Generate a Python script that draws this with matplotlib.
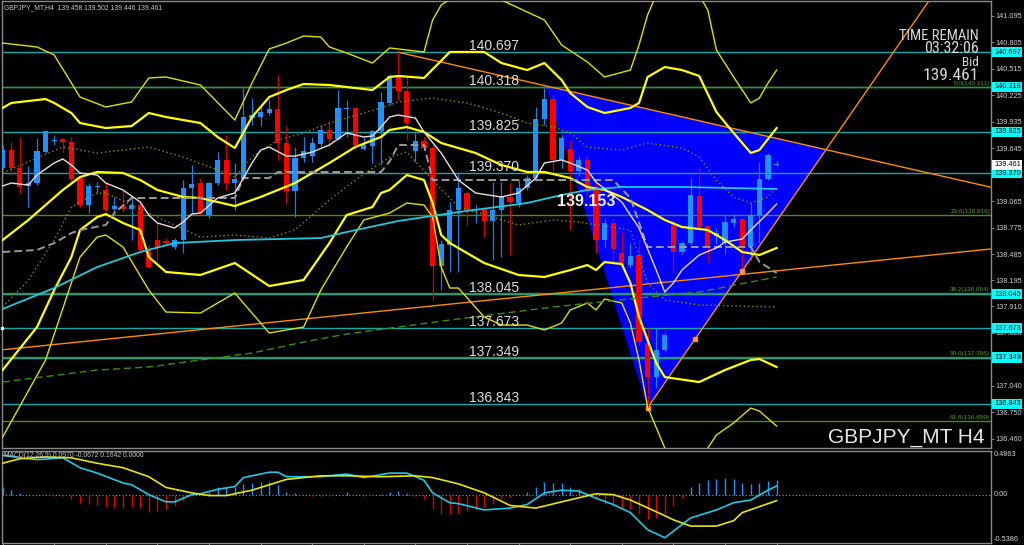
import numpy as np
import matplotlib
matplotlib.use("Agg")
import matplotlib.pyplot as plt
from matplotlib.patches import Polygon
from matplotlib.transforms import blended_transform_factory

plt.rcParams['font.family'] = ['Liberation Sans', 'DejaVu Sans']

# ------------------------------------------------------------------ data
symbol = "GBPJPY_MT"
timeframe = "H4"

opens = [139.428, 139.625, 139.428, 139.231, 139.263, 139.603, 139.724, 139.746, 139.713, 139.318,
         139.022, 139.220, 139.187, 138.978, 139.011, 138.978, 139.022, 138.540, 138.638, 138.627,
         138.562, 138.638, 139.209, 139.263, 138.912, 139.263, 139.516, 139.263, 139.307, 139.976,
         139.987, 140.031, 140.075, 139.702, 139.176, 139.537, 139.559, 139.691, 139.845, 139.746,
         140.075, 140.086, 139.636, 139.669, 139.834, 140.141, 140.437, 140.272, 139.614, 139.724,
         139.647, 138.353, 138.584, 138.967, 139.154, 138.967, 138.978, 138.847, 138.967, 139.110,
         139.044, 139.209, 139.318, 139.965, 140.184, 139.516, 139.636, 139.395, 139.516, 139.187,
         138.638, 138.825, 138.496, 138.364, 138.474, 137.509, 137.138, 137.432, 138.803, 138.507,
         138.605, 139.121, 138.792, 138.682, 138.605, 138.825, 138.869, 138.562, 138.912, 139.307,
         139.458]
highs = [139.680, 139.713, 139.768, 139.450, 139.757, 139.845, 139.790, 139.757, 139.768, 139.340,
         139.263, 139.274, 139.263, 139.110, 139.187, 139.099, 139.044, 138.584, 138.825, 138.660,
         138.660, 139.296, 139.461, 139.318, 139.274, 139.603, 139.790, 139.483, 140.305, 140.195,
         140.097, 140.174, 140.448, 139.888, 139.658, 139.768, 139.768, 139.899, 139.943, 140.283,
         140.174, 140.097, 139.768, 139.845, 140.261, 140.459, 140.697, 140.426, 139.834, 139.768,
         139.680, 138.638, 139.055, 139.373, 139.176, 139.022, 139.000, 139.274, 139.274, 139.274,
         139.296, 139.351, 140.097, 140.305, 140.228, 139.790, 139.735, 139.560, 139.570, 139.296,
         138.879, 138.879, 138.726, 138.605, 138.638, 137.673, 137.673, 137.630, 138.858, 138.630,
         139.318, 139.439, 138.800, 138.770, 138.900, 138.920, 138.869, 139.044, 139.494, 139.592,
         139.502]
lows = [139.406, 139.351, 139.154, 139.000, 139.241, 139.592, 139.680, 139.603, 139.241, 139.000,
        138.934, 139.154, 138.945, 138.934, 138.945, 138.638, 138.507, 138.331, 138.419, 138.573,
        138.540, 138.496, 138.934, 138.912, 138.879, 139.241, 139.187, 138.967, 139.296, 139.899,
        139.888, 140.009, 139.516, 139.033, 138.890, 139.494, 139.494, 139.658, 139.658, 139.735,
        139.768, 139.625, 139.625, 139.483, 139.461, 140.118, 140.174, 139.735, 139.494, 139.625,
        137.981, 138.090, 138.288, 138.288, 138.803, 138.825, 138.671, 138.419, 138.452, 138.474,
        139.000, 139.187, 139.285, 139.899, 139.384, 139.428, 138.748, 139.340, 139.132, 138.496,
        138.551, 138.397, 138.342, 138.342, 137.487, 136.800, 137.016, 137.410, 138.277, 138.490,
        138.584, 138.748, 138.397, 138.600, 138.480, 138.780, 138.331, 138.419, 138.605, 139.296,
        139.446]
closes = [139.625, 139.428, 139.220, 139.263, 139.614, 139.834, 139.735, 139.713, 139.307, 139.022,
          139.231, 139.231, 138.967, 139.011, 138.978, 139.022, 138.529, 138.342, 138.562, 138.605,
          138.638, 139.209, 139.252, 138.934, 139.263, 139.516, 139.263, 139.307, 139.987, 140.009,
          140.042, 140.075, 139.702, 139.176, 139.537, 139.614, 139.702, 139.845, 139.746, 140.086,
          140.086, 139.680, 139.680, 139.834, 140.152, 140.437, 140.272, 139.921, 139.724, 139.647,
          138.353, 138.595, 138.967, 139.209, 138.967, 138.978, 138.847, 138.967, 139.110, 139.055,
          139.209, 139.318, 139.965, 140.184, 139.516, 139.757, 139.395, 139.516, 139.187, 138.638,
          138.825, 138.540, 138.364, 138.463, 137.520, 137.138, 137.432, 137.597, 138.507, 138.605,
          139.132, 138.781, 138.551, 138.715, 138.836, 138.869, 138.562, 138.912, 139.307, 139.570,
          139.461]

# Bollinger style bands (bar index, price)
band_up_outer_idx = [0, 4, 6, 9, 12, 15, 17, 19, 23, 27, 29, 31, 33, 35, 37, 38, 40, 43, 45, 49, 50, 51,
                     54, 57, 58, 63, 65, 68, 70, 73, 74, 75, 76, 78, 80, 81, 82, 83, 85, 87, 88, 89, 90]
band_up_outer = [140.798, 140.755, 140.667, 140.206, 140.097, 140.152, 140.415, 140.426, 140.338, 139.954,
                 140.360, 140.733, 140.798, 140.875, 140.864, 140.755, 140.689, 140.579, 140.744, 140.700,
                 141.051, 141.215, 141.400, 141.400, 141.270, 141.051, 140.777, 140.590, 140.426, 140.502,
                 140.777, 141.106, 141.325, 141.700, 141.600, 141.325, 141.160, 140.722, 140.426, 140.141,
                 140.195, 140.360, 140.502]
band_up_idx = [0, 1, 5, 6, 8, 9, 12, 15, 17, 19, 23, 25, 27, 29, 31, 33, 35, 38, 40, 43, 45, 46, 49,
               52, 56, 58, 61, 63, 65, 66, 68, 70, 73, 74, 75, 77, 79, 81, 83, 85, 87, 88, 90]
band_up = [140.086, 140.141, 140.184, 140.141, 140.031, 139.921, 139.866, 139.888, 140.031, 139.987,
           139.921, 139.768, 139.647, 139.987, 140.206, 140.283, 140.349, 140.338, 140.316, 140.283,
           140.426, 140.437, 140.415, 140.700, 140.700, 140.579, 140.502, 140.579, 140.393, 140.250,
           140.097, 140.031, 140.086, 140.141, 140.426, 140.535, 140.502, 140.437, 140.042, 139.812,
           139.593, 139.625, 139.866]
band_mid_idx = [0, 4, 7, 11, 17, 21, 25, 27, 29, 32, 35, 38, 40, 44, 46, 50, 54, 58, 61, 64, 66, 68,
                72, 75, 79, 81, 83, 85, 87, 89, 90]
band_mid = [139.373, 139.537, 139.658, 139.592, 139.658, 139.548, 139.406, 139.329, 139.548, 139.735,
            139.812, 139.921, 139.976, 140.086, 140.152, 140.195, 140.141, 140.031, 139.921, 139.877,
            139.812, 139.658, 139.625, 139.702, 139.647, 139.548, 139.296, 139.110, 139.044, 139.110,
            139.220]
band_lo_idx = [0, 3, 7, 9, 11, 14, 16, 18, 21, 23, 27, 30, 34, 38, 41, 44, 45, 47, 49, 51, 55, 58, 61,
               63, 66, 68, 70, 72, 75, 77, 79, 82, 84, 86, 88, 90]
band_lo = [138.638, 138.858, 139.187, 139.329, 139.384, 139.373, 139.296, 139.187, 139.110, 139.099,
           139.011, 139.110, 139.263, 139.483, 139.658, 139.768, 139.845, 139.877, 139.823, 139.702,
           139.592, 139.461, 139.384, 139.384, 139.318, 139.220, 139.187, 139.110, 138.967, 138.858,
           138.781, 138.748, 138.638, 138.507, 138.474, 138.551]
band_lo2_idx = [0, 4, 6, 8, 9, 11, 12, 14, 16, 17, 19, 23, 27, 31, 35, 38, 40, 43, 44, 45, 47, 49, 50,
                51, 52, 56, 60, 63, 66, 68, 69, 70, 72, 73, 74, 76, 77, 81, 84, 87, 88, 90]
band_lo2 = [137.213, 137.684, 138.090, 138.452, 138.748, 138.890, 138.923, 138.825, 138.748, 138.452,
            138.288, 138.255, 138.386, 138.134, 138.200, 138.605, 138.912, 139.000, 139.154, 139.187,
            139.351, 139.296, 139.044, 138.693, 138.605, 138.386, 138.255, 138.233, 138.309, 138.364,
            138.309, 138.397, 138.375, 138.167, 137.794, 137.290, 137.136, 137.081, 137.213, 137.323,
            137.334, 137.246]
band_lo3_idx = [0, 5, 9, 11, 12, 14, 17, 19, 23, 27, 31, 35, 37, 40, 42, 45, 47, 49, 50, 51, 52, 53,
                56, 58, 61, 63, 65, 66, 68, 69, 70, 72, 73, 74, 75, 77, 79, 80, 82, 83, 85, 87, 88, 90]
band_lo3 = [136.478, 137.323, 138.452, 138.671, 138.693, 138.562, 138.090, 137.849, 137.838, 138.057,
            137.619, 137.684, 138.090, 138.562, 138.858, 138.934, 139.044, 139.022, 138.890, 138.342,
            138.112, 138.112, 137.794, 137.706, 137.706, 137.652, 137.728, 137.871, 137.948, 137.871,
            137.991, 137.948, 137.728, 137.323, 136.807, 136.358, 135.950, 135.950, 136.358, 136.500,
            136.632, 136.796, 136.763, 136.599]
span_dot_idx = [0, 3, 6, 8, 11, 12, 17, 23, 27, 31, 34, 38, 41, 45, 47, 50, 53, 57, 60, 64, 67, 73,
                75, 77, 81, 90]
span_dot = [137.904, 138.200, 138.638, 139.000, 139.154, 139.154, 138.934, 138.671, 138.693, 138.660,
            138.748, 139.077, 139.296, 139.548, 139.603, 139.296, 139.000, 138.890, 138.803, 138.858,
            138.836, 138.748, 138.167, 137.981, 137.926, 137.904]
ma_fast_idx = [0, 1, 3, 4, 6, 7, 8, 9, 11, 12, 14, 16, 17, 18, 20, 21, 22, 23, 25, 27, 29, 30, 31, 33,
               34, 36, 38, 40, 42, 43, 44, 45, 46, 48, 49, 51, 53, 55, 58, 60, 62, 63, 65, 66, 68, 69,
               72, 74, 76, 77, 78, 79, 81, 83, 84, 86, 87, 89, 90]
ma_fast = [139.231, 139.263, 139.241, 139.351, 139.483, 139.527, 139.461, 139.373, 139.351, 139.263,
           139.187, 139.055, 138.912, 138.825, 138.770, 138.836, 138.923, 138.934, 139.099, 139.154,
           139.483, 139.625, 139.658, 139.559, 139.559, 139.603, 139.680, 139.812, 139.768, 139.779,
           139.877, 139.987, 140.009, 139.976, 139.823, 139.592, 139.296, 139.154, 139.110, 139.154,
           139.318, 139.483, 139.516, 139.483, 139.406, 139.274, 139.055, 138.770, 138.310, 138.068,
           138.167, 138.310, 138.474, 138.551, 138.616, 138.649, 138.748, 138.934, 139.033]
ma_mid_idx = [0, 6, 11, 16, 20, 27, 32, 37, 40, 46, 53, 61, 65, 68, 72, 79, 90]
ma_mid = [137.882, 138.112, 138.342, 138.507, 138.605, 138.638, 138.649, 138.660, 138.726, 138.847,
          138.945, 139.044, 139.132, 139.187, 139.220, 139.220, 139.198]
ma_slow_idx = [0, 11, 17, 23, 29, 35, 40, 52, 64, 75, 81, 90]
ma_slow = [137.081, 137.213, 137.246, 137.323, 137.399, 137.520, 137.608, 137.761, 137.904, 138.013,
           138.068, 138.233]
base_idx = [0, 4, 6, 8, 9, 12, 13, 15, 27, 28, 31, 32, 44, 45, 46, 49, 50, 71, 73, 75, 87, 88, 90]
base_line = [138.507, 138.529, 138.605, 138.715, 138.748, 138.803, 138.934, 139.099, 139.099, 139.318,
             139.318, 139.384, 139.384, 139.500, 139.680, 139.680, 139.296, 139.296, 139.099, 138.562,
             138.562, 138.400, 138.277]

# MACD panel
macd_hist = [0.09, 0.05, 0.02, -0.02, -0.02, -0.005, -0.01, -0.02, -0.05, -0.09,
             -0.10, -0.115, -0.14, -0.15, -0.15, -0.14, -0.15, -0.19, -0.18, -0.16,
             -0.13, -0.07, -0.02, -0.005, 0.035, 0.08, 0.08, 0.08, 0.115, 0.135,
             0.145, 0.145, 0.11, 0.035, 0.013, 0.0, -0.018, -0.013, -0.013, -0.005,
             0.027, -0.005, -0.013, -0.009, 0.005, 0.03, 0.045, 0.013, -0.018, -0.05,
             -0.16, -0.22, -0.22, -0.20, -0.18, -0.16, -0.14, -0.10, -0.05, -0.03,
             0.0, 0.027, 0.09, 0.14, 0.135, 0.125, 0.09, 0.06, 0.01, -0.05,
             -0.10, -0.125, -0.16, -0.16, -0.21, -0.27, -0.26, -0.22, -0.125, -0.035,
             0.08, 0.13, 0.16, 0.17, 0.18, 0.17, 0.13, 0.12, 0.13, 0.155, 0.1642]
macd_idx = [0, 2, 4, 7, 9, 11, 14, 15, 17, 19, 20, 22, 23, 25, 27, 28, 31, 32, 33, 37, 40, 42, 45,
            47, 49, 50, 52, 53, 56, 59, 61, 63, 65, 67, 69, 71, 73, 75, 77, 80, 83, 85, 87, 89, 90]
macd_main = [0.44, 0.41, 0.39, 0.41, 0.30, 0.24, 0.13, 0.11, 0.0, -0.08, -0.08, 0.0, 0.01, 0.06, 0.09,
             0.19, 0.25, 0.25, 0.20, 0.20, 0.23, 0.19, 0.24, 0.24, 0.16, 0.02, -0.09, -0.10, -0.17,
             -0.15, -0.11, 0.02, 0.05, 0.04, -0.04, -0.11, -0.20, -0.39, -0.48, -0.26, -0.17, -0.09,
             -0.06, 0.05, 0.097]
signal_idx = [0, 2, 5, 8, 11, 14, 17, 19, 22, 24, 26, 29, 33, 37, 40, 44, 48, 50, 53, 56, 59, 62, 65,
              69, 71, 73, 76, 78, 80, 83, 85, 86, 90]
macd_signal = [0.35, 0.40, 0.42, 0.41, 0.35, 0.30, 0.20, 0.08, 0.02, -0.01, -0.01, 0.05, 0.17, 0.21,
               0.21, 0.20, 0.21, 0.19, 0.12, 0.02, -0.12, -0.15, -0.08, 0.01, 0.0, -0.06, -0.19, -0.28,
               -0.35, -0.35, -0.29, -0.20, -0.067]
macd_params = "MACD(12,26,9) 0.0970 -0.0672 0.1642 0.0000"
macd_top, macd_bottom = 0.4863, -0.5386

# horizontal levels, fibonacci, drawing objects
level_prices = [140.697, 140.318, 139.825, 139.370, 138.045, 137.673, 137.349, 136.843]
fib_pct = ["0.0", "23.6", "38.2", "50.0", "61.8"]
fib_prices = [140.311, 138.916, 138.054, 137.356, 136.659]
triangle_bars = [63.1, 75.0, 95.9]
triangle_prices = [140.330, 136.800, 139.630]
triangle_label = "139.153"
rise_line = [(0, 137.435), (81, 138.214)]
fall_line = [(46, 140.697), (63, 140.332)]
steep_line = [(75, 136.800), (86, 138.300)]
steep_marks = [75, 80.5, 86]
# visible right-axis scale labels (those hidden under level boxes omitted)
price_ticks = [141.095, 140.805, 140.515, 140.225, 139.935, 139.645, 139.065, 138.775,
               138.485, 138.195, 137.910, 137.620, 137.040, 136.750, 136.460]
bid = 139.461
ohlc_header = [139.458, 139.502, 139.446, 139.461]
time_remain = "03:32:06"

# ------------------------------------------------------------------ layout
W, H = 1024, 545
BG = 'black'
fig = plt.figure(figsize=(W / 100, H / 100), dpi=100, facecolor=BG)


def fbox(x0, y0, x1, y1):
    return [x0 / W, 1 - y1 / H, (x1 - x0) / W, (y1 - y0) / H]


ax = fig.add_axes(fbox(2, 1, 991, 448))
ax2 = fig.add_axes(fbox(2, 451, 991, 543))
bar_px, first_px = 8.6, 2.6
x_left = (2 - first_px) / bar_px
x_right = (991 - first_px) / bar_px
for a in (ax, ax2):
    a.set_facecolor(BG)
    a.set_xlim(x_left, x_right)
    for s in a.spines.values():
        s.set_color('#8a8a8a')
        s.set_linewidth(1.0)
ax.set_ylim(136.358, 141.259)
ax2.set_ylim(macd_bottom, macd_top)

n = len(opens)
idx = np.arange(n)
o, h, l, c = (np.array(v) for v in (opens, highs, lows, closes))

# triangle object (background)
ax.add_patch(Polygon(list(zip(triangle_bars, triangle_prices)), closed=True,
                     fc='#0000ff', ec='none', zorder=1))

# horizontal levels
for p in level_prices:
    ax.axhline(p, color='#18a8a8', lw=1.0, zorder=2)
for p in fib_prices:
    ax.axhline(p, color='#4e8c0c', lw=1.0, zorder=2)


# trend lines
def ray(anchors, start, end):
    (b0, p0), (b1, p1) = anchors
    s = (p1 - p0) / (b1 - b0)
    xs = np.array([start, end])
    return xs, p0 + s * (xs - b0)


for anchors, st in ((rise_line, x_left), (fall_line, fall_line[0][0]), (steep_line, steep_line[0][0])):
    xs, ys = ray(anchors, st, x_right)
    ax.plot(xs, ys, color='#ff8c00', lw=1.0, zorder=2.5)
sb = np.array(steep_marks)
s_slope = (steep_line[1][1] - steep_line[0][1]) / (steep_line[1][0] - steep_line[0][0])
ax.plot(sb, steep_line[0][1] + s_slope * (sb - steep_line[0][0]), 's', color='#ff9a20', ms=2.2, zorder=2.6)

# candles
up = c >= o
cols = np.where(up, '#1E90FF', '#FF0000')
wick_cols = np.where(up, '#1e7fe0', '#d00000')
ax.vlines(idx, l, h, colors=wick_cols, lw=0.9, zorder=3)
body_lo = np.minimum(o, c)
body_h = np.maximum(np.abs(c - o), 0.011)
ax.bar(idx, body_h, bottom=body_lo, width=0.6, color=cols, linewidth=0, zorder=3.1)

# indicators
ax.plot(band_up_outer_idx, band_up_outer, color='#e0e000', lw=1.0, zorder=4)
ax.plot(band_lo3_idx, band_lo3, color='#e0e000', lw=1.0, zorder=4)
ax.plot(band_up_idx, band_up, color='#ffff00', lw=1.6, zorder=4)
ax.plot(band_lo_idx, band_lo, color='#ffff00', lw=1.6, zorder=4)
ax.plot(band_lo2_idx, band_lo2, color='#ffff00', lw=1.6, zorder=4)
ax.plot(band_mid_idx, band_mid, color='#8c8c00', lw=1.0, ls=(0, (1, 2)), zorder=4)
ax.plot(span_dot_idx, span_dot, color='#8c8c00', lw=1.0, ls=(0, (1, 2)), zorder=4)
ax.plot(base_idx, base_line, color='#9a9a9a', lw=1.4, ls=(0, (4, 2)), zorder=4)
ax.plot(ma_mid_idx, ma_mid, color='#20c8dc', lw=1.3, zorder=4)
ax.plot(ma_slow_idx, ma_slow, color='#3c9000', lw=1.0, ls=(0, (5, 3)), zorder=4)
ax.plot(ma_fast_idx, ma_fast, color='#f0dcdc', lw=1.0, zorder=4.2)

# level labels in chart
label_bar = 54.23
for p in level_prices:
    ax.annotate(f"{p:.3f}", xy=(label_bar, p), xytext=(0, 2), textcoords='offset pixels',
                ha='left', va='baseline', color='#dcdcdc', fontsize=10, zorder=6)
ax.annotate(triangle_label, xy=(64.47, float(triangle_label)), xytext=(0, -1), textcoords='offset pixels',
            ha='left', va='top', color='#f0f0f0', fontsize=11.5, fontweight='bold', zorder=6)

# fib labels
tr = blended_transform_factory(ax.transAxes, ax.transData)
for pct, p in zip(fib_pct, fib_prices):
    ax.annotate(f"{pct}({p:.3f})", xy=(1.0, p), xycoords=tr, xytext=(-1, 1), textcoords='offset pixels',
                ha='right', va='bottom', color='#5c9c1c', fontsize=4.6, zorder=6)

# right price axis
ax.yaxis.tick_right()
ax.set_yticks(price_ticks)
ax.set_yticklabels([f"{t:.3f}" for t in price_ticks])
ax.tick_params(axis='y', colors='#8a8a8a', labelcolor='#d0d0d0', labelsize=5.3, length=2, width=0.7, pad=1.5)
ax.set_xticks([])
for p in level_prices:
    ax.text(1.0 + 3 / 989, p, f"{p:.3f}", transform=tr, ha='left', va='center', fontsize=5.3,
            color='black', clip_on=False, zorder=10,
            bbox=dict(boxstyle='square,pad=0.22', fc='#00ffff', ec='none'))
ax.text(1.0 + 3 / 989, bid, f"{bid:.3f}", transform=tr, ha='left', va='center', fontsize=5.3,
        color='black', clip_on=False, zorder=10,
        bbox=dict(boxstyle='square,pad=0.22', fc='white', ec='none'))
ax.plot([x_left], [level_prices[5]], 's', color='#c8ffff', ms=2, clip_on=False, zorder=6)

# MACD panel
hcols = np.where(np.array(macd_hist) >= 0, '#1E90FF', '#e00000')
ax2.vlines(idx, 0, macd_hist, colors=hcols, lw=1.0, zorder=3)
ax2.axhline(0, color='#9a9a9a', lw=0.8, ls=(0, (1, 2)), zorder=2)
ax2.plot(macd_idx, macd_main, color='#1ec8e6', lw=1.2, zorder=4)
ax2.plot(signal_idx, macd_signal, color='#e6e600', lw=1.2, zorder=4)
ax2.set_yticks([])
ax2.set_xticks(np.arange(0, 91, 6))
ax2.set_xticklabels([])
ax2.tick_params(axis='x', colors='#8a8a8a', length=2.5, width=0.8, direction='out')
tr2 = blended_transform_factory(ax2.transAxes, ax2.transData)
for v, txt, va in ((macd_top, f"{macd_top:.4f}", 'top'), (0.0, "0.00", 'center'),
                   (macd_bottom, f"{macd_bottom:.4f}", 'bottom')):
    ax2.text(1.0 + 3 / 989, v, txt, transform=tr2, ha='left', va=va, fontsize=5.3,
             color='#d0d0d0', clip_on=False)
fig.text(4 / W, 1 - 455.5 / H, macd_params, ha='left', va='center', fontsize=4.9, color='#c8c8c8')

# header & info texts
fig.text(4 / W, 1 - 7.5 / H, f"{symbol},{timeframe}  " + " ".join(f"{v:.3f}" for v in ohlc_header),
         ha='left', va='center', fontsize=4.9, color='#c8c8c8')
narrow = ['Liberation Sans Narrow', 'Roboto Condensed', 'Liberation Sans', 'DejaVu Sans']
fig.text(979 / W, 1 - 40 / H, "TIME REMAIN", ha='right', va='baseline', fontsize=10.5,
         color='#d8d8d8', family=narrow)
fig.text(979 / W, 1 - 53 / H, time_remain, ha='right', va='baseline', fontsize=11.5,
         color='#d8d8d8', family=narrow)
fig.text(979 / W, 1 - 66 / H, "Bid", ha='right', va='baseline', fontsize=9.5,
         color='#d8d8d8', family=narrow)
fig.text(979 / W, 1 - 80 / H, f"{bid:.3f}", ha='right', va='baseline', fontsize=12.5,
         color='#d8d8d8', family=narrow)
fig.text(985 / W, 1 - 443 / H, f"{symbol} {timeframe}", ha='right', va='baseline', fontsize=15,
         color='#e8e8e8')

fig.savefig("out.png", dpi=100, facecolor=BG)
